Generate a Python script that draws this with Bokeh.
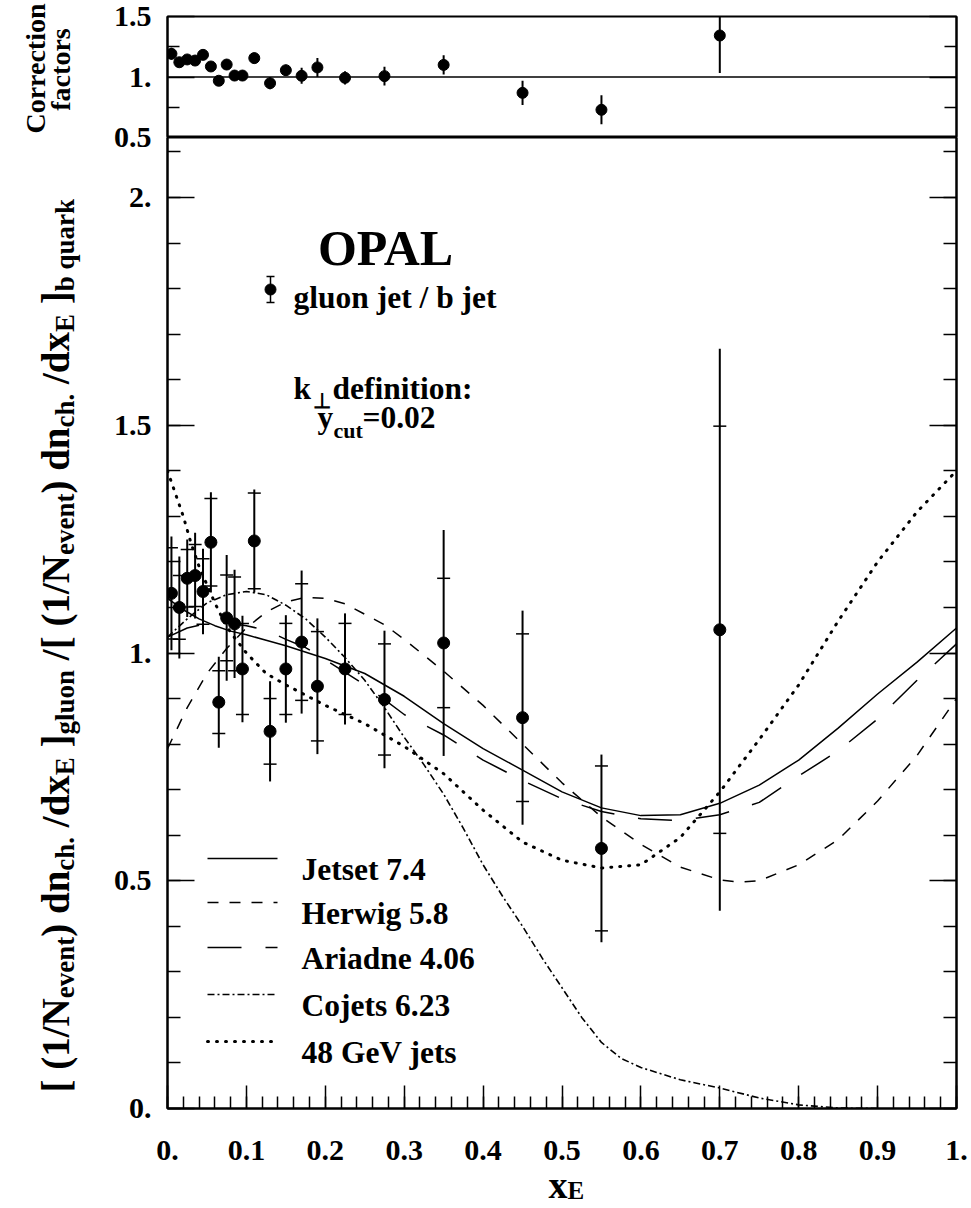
import math
from bokeh.plotting import figure
from bokeh.layouts import column, row
from bokeh.models import Range1d, LinearAxis, FixedTicker, Span, Label
from bokeh.core.properties import value
from bokeh.embed import file_html
from bokeh.resources import INLINE

# ---------------- data ----------------
x_e = [0.005, 0.015, 0.025, 0.035, 0.045, 0.055, 0.065, 0.075, 0.085, 0.095,
       0.11, 0.13, 0.15, 0.17, 0.19, 0.225, 0.275, 0.35, 0.45, 0.55, 0.70]
ratio = [1.131, 1.100, 1.164, 1.170, 1.135, 1.243, 0.892, 1.077, 1.064, 0.965,
         1.246, 0.828, 0.965, 1.024, 0.927, 0.965, 0.898, 1.022, 0.858, 0.571, 1.051]
err_tot = [0.125, 0.112, 0.085, 0.094, 0.094, 0.110, 0.100, 0.138, 0.119, 0.117,
           0.113, 0.110, 0.118, 0.157, 0.149, 0.122, 0.151, 0.248, 0.235, 0.206, 0.617]
err_stat = [0.100, 0.070, 0.063, 0.068, 0.072, 0.096, 0.069, 0.094, 0.103, 0.100,
            0.105, 0.072, 0.100, 0.128, 0.120, 0.100, 0.122, 0.142, 0.184, 0.181, 0.447]

corr = [1.192, 1.122, 1.145, 1.136, 1.183, 1.087, 0.969, 1.103, 1.012, 1.012,
        1.156, 0.949, 1.056, 1.010, 1.079, 0.993, 1.007, 1.100, 0.869, 0.729, 1.343]
corr_err = [0.05, 0.03, 0.03, 0.03, 0.03, 0.03, 0.04, 0.04, 0.04, 0.04,
            0.045, 0.05, 0.045, 0.066, 0.078, 0.055, 0.078, 0.08, 0.10, 0.12, 0.31]

jetset_x = [0, 0.02, 0.04, 0.06, 0.08, 0.1, 0.125, 0.15, 0.2, 0.25, 0.3, 0.35, 0.4, 0.45,
            0.5, 0.55, 0.6, 0.65, 0.7, 0.75, 0.8, 0.85, 0.9, 0.95, 1.0]
jetset_y = [1.12, 1.095, 1.075, 1.06, 1.048, 1.04, 1.028, 1.016, 0.988, 0.955, 0.905, 0.845,
            0.79, 0.743, 0.695, 0.66, 0.643, 0.645, 0.67, 0.71, 0.765, 0.835, 0.91, 0.98, 1.055]

herwig_x = [0, 0.025, 0.05, 0.075, 0.1, 0.125, 0.15, 0.175, 0.2, 0.225, 0.25, 0.275, 0.3,
            0.35, 0.4, 0.45, 0.5, 0.55, 0.6, 0.65, 0.7, 0.725, 0.75, 0.8, 0.85, 0.9, 0.95, 1.0]
herwig_y = [0.79, 0.88, 0.955, 1.01, 1.055, 1.09, 1.112, 1.122, 1.12, 1.108, 1.085, 1.062, 1.03,
            0.96, 0.885, 0.80, 0.715, 0.64, 0.58, 0.53, 0.502, 0.497, 0.50, 0.535, 0.59, 0.675,
            0.775, 0.90]

ariadne_x = [0, 0.025, 0.05, 0.075, 0.1, 0.125, 0.15, 0.175, 0.2, 0.25, 0.3, 0.35, 0.4, 0.45,
             0.5, 0.55, 0.6, 0.65, 0.7, 0.75, 0.8, 0.85, 0.9, 0.95, 1.0]
ariadne_y = [1.035, 1.055, 1.065, 1.066, 1.06, 1.05, 1.03, 1.012, 0.985, 0.93, 0.865, 0.82,
             0.765, 0.72, 0.68, 0.652, 0.636, 0.632, 0.645, 0.672, 0.73, 0.785, 0.855, 0.94, 1.02]

cojets_x = [0, 0.025, 0.05, 0.075, 0.1, 0.125, 0.15, 0.175, 0.2, 0.225, 0.25, 0.275, 0.3,
            0.325, 0.35, 0.375, 0.4, 0.425, 0.45, 0.475, 0.5, 0.525, 0.55, 0.575, 0.6, 0.65,
            0.7, 0.75, 0.8, 0.85, 0.9]
cojets_y = [1.035, 1.075, 1.11, 1.128, 1.135, 1.128, 1.105, 1.075, 1.035, 0.99, 0.94, 0.88,
            0.815, 0.755, 0.69, 0.615, 0.535, 0.465, 0.40, 0.33, 0.265, 0.20, 0.145, 0.11,
            0.09, 0.063, 0.045, 0.023, 0.008, 0.001, 0.0]

gev48_x = [0, 0.01, 0.02, 0.03, 0.04, 0.05, 0.06, 0.07, 0.08, 0.1, 0.125, 0.15, 0.2, 0.25,
           0.3, 0.35, 0.4, 0.45, 0.5, 0.55, 0.6, 0.65, 0.7, 0.75, 0.8, 0.85, 0.9, 0.95, 1.0]
gev48_y = [1.40, 1.35, 1.30, 1.24, 1.19, 1.15, 1.11, 1.075, 1.045, 1.0, 0.955, 0.93, 0.885,
           0.845, 0.795, 0.735, 0.655, 0.585, 0.545, 0.528, 0.535, 0.595, 0.695, 0.81, 0.93,
           1.07, 1.2, 1.31, 1.40]

model_labels = ["Jetset 7.4", "Herwig 5.8", "Ariadne 4.06", "Cojets 6.23", "48 GeV jets"]

x_major = [round(0.1 * i, 2) for i in range(11)]
x_minor = [round(0.02 * i, 2) for i in range(51)]
x_tick_labels = ["0.", "0.1", "0.2", "0.3", "0.4", "0.5", "0.6", "0.7", "0.8", "0.9", "1."]
y_major = [0.0, 0.5, 1.0, 1.5, 2.0]
y_minor = [round(0.1 * i, 2) for i in range(22)]
y_tick_labels = ["0.", "0.5", "1.", "1.5", "2."]
top_major = [0.5, 1.0, 1.5]
top_minor = [0.75, 1.25]
top_tick_labels = ["0.5", "1.", "1.5"]

# ---------------- layout helpers (page pixels -> data) ----------------
FONT = "Liberation Serif"
TOTAL_W = 968
TOTAL_H = 1206
LEFT_W = 160
COL_W = TOTAL_W - LEFT_W
TOP_H = 137
MAIN_H = 991
BOT_H = TOTAL_H - TOP_H - MAIN_H


def px2x(px):
    return (px - 167.0) / 789.0


def py2y(py):
    return (1108.0 - py) / 455.5


def py2top(py):
    return 1.5 - (py - 16.0) / 121.0


def style_axis(ax, maj_in, min_in):
    ax.axis_line_width = 2
    ax.axis_line_color = "black"
    ax.major_tick_in = maj_in
    ax.major_tick_out = 0
    ax.minor_tick_in = min_in
    ax.minor_tick_out = 0
    ax.major_tick_line_width = 1.5
    ax.minor_tick_line_width = 1.5
    ax.major_tick_line_color = "black"
    ax.minor_tick_line_color = "black"
    ax.major_label_text_font_size = "1px"
    ax.major_label_text_color = None
    ax.major_label_standoff = 0


def lbl(fig, x, y, text, size, angle=0.0, align="left"):
    fig.add_layout(Label(x=x, y=y, text=text, text_font=FONT, text_font_style="bold",
                         text_font_size=f"{size}px", text_color="black",
                         text_align=align, text_baseline="alphabetic", angle=angle))


def plain(fig):
    fig.outline_line_color = None
    fig.background_fill_color = "white"
    fig.border_fill_color = "white"
    fig.grid.grid_line_color = None


# ---------------- top panel: correction factors ----------------
xr = Range1d(0, 1)
ptop = figure(width=COL_W, height=TOP_H, x_range=xr, y_range=Range1d(0.5, 1.5),
              output_backend="svg", toolbar_location=None,
              x_axis_location=None, y_axis_location=None,
              min_border_left=7, min_border_right=12, min_border_top=16, min_border_bottom=0)
plain(ptop)
ptop.outline_line_color = "black"
ptop.outline_line_width = 2
for side in ("left", "right"):
    ax = LinearAxis(ticker=FixedTicker(ticks=top_major, minor_ticks=top_minor))
    style_axis(ax, 27, 12)
    ptop.add_layout(ax, side)

ptop.add_layout(Span(location=1.0, dimension="width", line_color="black", line_width=1.5))
ptop.segment(x0=x_e, y0=[c - e for c, e in zip(corr, corr_err)],
             x1=x_e, y1=[c + e for c, e in zip(corr, corr_err)],
             line_color="black", line_width=2)
ptop.scatter(x_e, corr, size=11, color="black")

# ---------------- main panel ----------------
p = figure(width=COL_W, height=MAIN_H, x_range=xr, y_range=Range1d(0, 971.0 / 455.5),
           output_backend="svg", toolbar_location=None,
           x_axis_location=None, y_axis_location=None,
           min_border_left=7, min_border_right=12, min_border_top=0, min_border_bottom=20)
plain(p)
p.outline_line_color = "black"
p.outline_line_width = 2

xax = LinearAxis(ticker=FixedTicker(ticks=x_major, minor_ticks=x_minor))
style_axis(xax, 23, 12)
p.add_layout(xax, "below")
for side in ("left", "right"):
    ax = LinearAxis(ticker=FixedTicker(ticks=y_major, minor_ticks=y_minor))
    style_axis(ax, 27, 13)
    p.add_layout(ax, side)

styles = [
    dict(line_dash="solid", line_width=1.5),
    dict(line_dash="11 11", line_width=1.5),
    dict(line_dash="34 24", line_width=1.5),
    dict(line_dash="7 3 2 3", line_width=1.6),
    dict(line_dash="1 8", line_width=3, line_cap="round"),
]
curves = [(jetset_x, jetset_y), (herwig_x, herwig_y), (ariadne_x, ariadne_y),
          (cojets_x, cojets_y), (gev48_x, gev48_y)]
for (cx, cy), st in zip(curves, styles):
    p.line(cx, cy, line_color="black", **st)

p.segment(x0=x_e, y0=[r - e for r, e in zip(ratio, err_tot)],
          x1=x_e, y1=[r + e for r, e in zip(ratio, err_tot)],
          line_color="black", line_width=2)
p.scatter(x_e, [r + e for r, e in zip(ratio, err_stat)], marker="dash", size=13,
          line_color="black", line_width=1.5)
p.scatter(x_e, [r - e for r, e in zip(ratio, err_stat)], marker="dash", size=13,
          line_color="black", line_width=1.5)
p.scatter(x_e, ratio, size=12, color="black")

legend_rows = [858, 902, 947, 994, 1041]
for rw, st, text in zip(legend_rows, styles, model_labels):
    p.line([px2x(207), px2x(277)], [py2y(rw), py2y(rw)], line_color="black", **st)
    lbl(p, px2x(301), py2y(rw + 10.5), text, 31.5)

lbl(p, px2x(385), py2y(247), "OPAL", 50, align="center")
p.segment(x0=[px2x(270)], y0=[py2y(302)], x1=[px2x(270)], y1=[py2y(276)],
          line_color="black", line_width=1.5)
p.scatter([px2x(270)] * 2, [py2y(276), py2y(302)], marker="dash", size=8,
          line_color="black", line_width=1.5)
p.scatter([px2x(270)], [py2y(289)], size=11, color="black")
lbl(p, px2x(293), py2y(297), "gluon jet / b jet", 31.5)

lbl(p, px2x(293), py2y(388), "k", 31.5)
lbl(p, px2x(312), py2y(400), "\u22a5", 21)
lbl(p, px2x(332), py2y(388), "definition:", 31.5)
lbl(p, px2x(317), py2y(417), "y", 31.5)
lbl(p, px2x(333), py2y(430), "cut", 22)
lbl(p, px2x(362), py2y(417), "=0.02", 31.5)

# ---------------- left strip: y tick labels and titles ----------------
LEFT_H = TOP_H + MAIN_H
left = figure(width=LEFT_W, height=LEFT_H, x_range=Range1d(0, LEFT_W),
              y_range=Range1d(py2y(LEFT_H), py2y(0)),
              output_backend="svg", toolbar_location=None,
              x_axis_location=None, y_axis_location=None,
              min_border_left=0, min_border_right=0, min_border_top=0, min_border_bottom=0)
left.extra_y_ranges = {"top": Range1d(py2top(LEFT_H), py2top(0))}
plain(left)
left.text(x=[151] * len(y_major), y=y_major, text=y_tick_labels,
          text_font=value(FONT), text_font_style="bold", text_font_size="30px",
          text_align="right", text_baseline="middle", text_color="black")
left.text(x=[151] * len(top_major), y=top_major, text=top_tick_labels, y_range_name="top",
          text_font=value(FONT), text_font_style="bold", text_font_size="30px",
          text_align="right", text_baseline="middle", text_color="black")

lbl(left, 35, py2y(68), "Correction", 28, angle=math.pi / 2, align="center")
lbl(left, 60, py2y(69), "factors", 28, angle=math.pi / 2, align="center")

CW = {' ': 250, '[': 333, '(': 333, '1': 500, '/': 278, 'N': 722, ')': 333, 'd': 556,
      'n': 556, 'x': 500, ']': 333, 'e': 444, 'v': 500, 't': 333, 'c': 444, 'h': 556,
      '.': 250, 'E': 667, 'g': 500, 'l': 278, 'u': 556, 'o': 500, 'b': 556, 'q': 556,
      'a': 500, 'r': 444, 'k': 556}
pieces = [("[ (1/N", False), ("event", True), (") dn", False), ("ch.", True),
          (" /dx", False), ("E", True), (" ]", False), ("gluon", True),
          (" /[ (1/N", False), ("event", True), (") dn", False), ("ch.", True),
          (" /dx", False), ("E", True), (" ]", False), ("b quark", True)]
MAIN_FS, SUB_FS = 39, 27
pos = 1092.0
for txt, sub in pieces:
    fs = SUB_FS if sub else MAIN_FS
    lead = len(txt) - len(txt.lstrip(' '))
    start = pos - lead * CW[' '] * fs / 1000.0
    bx = 64 if sub else 55
    lbl(left, bx, py2y(start), txt.strip(), fs, angle=math.pi / 2)
    pos -= sum(CW[ch] for ch in txt) * fs / 1000.0

# ---------------- bottom strip: x tick labels and title ----------------
bfig = figure(width=TOTAL_W, height=BOT_H, x_range=Range1d(px2x(0), px2x(TOTAL_W)),
              y_range=Range1d(-TOTAL_H, -LEFT_H),
              output_backend="svg", toolbar_location=None,
              x_axis_location=None, y_axis_location=None,
              min_border_left=0, min_border_right=0, min_border_top=0, min_border_bottom=0)
plain(bfig)
bfig.text(x=x_major, y=[-1150] * len(x_major), text=x_tick_labels,
          text_font=value(FONT), text_font_style="bold", text_font_size="30px",
          text_align="center", text_baseline="middle", text_color="black")
lbl(bfig, px2x(548), -1184, "x", 38)
lbl(bfig, px2x(567), -1190, "E", 25)

layout = column(row(left, column(ptop, p)), bfig)
open("out.html", "w").write(file_html(layout, INLINE))
